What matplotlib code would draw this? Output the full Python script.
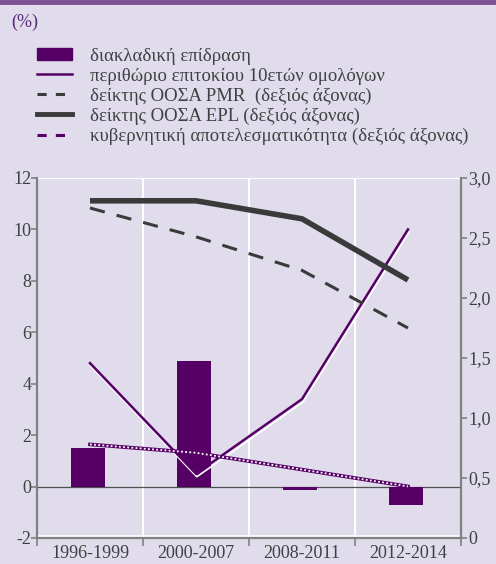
import numpy as np
import matplotlib.pyplot as plt
import matplotlib.patheffects as pe
from matplotlib.lines import Line2D
from matplotlib.patches import Patch

# ── data ────────────────────────────────────────────────────────────────────
periods      = ["1996-1999", "2000-2007", "2008-2011", "2012-2014"]
sector_eff   = [1.5, 4.9, -0.15, -0.7]     # left axis, bars
bond_spread  = [4.8, 0.5, 3.4, 10.0]       # left axis
pmr_index    = [2.75, 2.51, 2.23, 1.75]    # right axis
epl_index    = [2.81, 2.81, 2.66, 2.15]    # right axis
gov_effect   = [0.78, 0.71, 0.57, 0.43]    # right axis

legend_labels = [
    "διακλαδική επίδραση",
    "περιθώριο επιτοκίου 10ετών ομολόγων",
    "δείκτης ΟΟΣΑ PMR  (δεξιός άξονας)",
    "δείκτης ΟΟΣΑ EPL (δεξιός άξονας)",
    "κυβερνητική αποτελεσματικότητα (δεξιός άξονας)",
]

left_ticks   = [-2, 0, 2, 4, 6, 8, 10, 12]
right_ticks  = [0, 0.5, 1.0, 1.5, 2.0, 2.5, 3.0]
right_labels = ["0", "0,5", "1,0", "1,5", "2,0", "2,5", "3,0"]

# ── style ───────────────────────────────────────────────────────────────────
BG     = "#e0dcec"
PURPLE = "#560066"
DARK   = "#3a3a3a"
TEXT   = "#404040"
AXIS   = "#808080"

plt.rcParams["font.family"] = ["Liberation Serif", "DejaVu Serif"]

fig = plt.figure(figsize=(4.96, 5.64), dpi=100, facecolor=BG)
fig.add_artist(Line2D([0, 1], [0.9965, 0.9965], color="#7b4f93", lw=3.5,
                      transform=fig.transFigure))
fig.text(0.022, 0.961, "(%)", color="#5a2a78", fontsize=13, va="center")

ax = fig.add_axes([0.0746, 0.0461, 0.8548, 0.6383], facecolor=BG)
ax2 = ax.twinx()

x = np.arange(len(periods))

# bars
ax.bar(x - 0.02, sector_eff, width=0.32, color=PURPLE, zorder=3)
ax.axhline(0, color="#505050", lw=0.9, zorder=2)

# bond spread with white offset shadow
ax.plot(x, bond_spread, color=PURPLE, lw=1.8, zorder=5,
        path_effects=[pe.SimpleLineShadow(offset=(0.6, -2.2), shadow_color="white",
                                          alpha=1.0, linewidth=1.2),
                      pe.Normal()])

# right axis series
ax2.plot(x, epl_index, color=DARK, lw=4, solid_capstyle="butt", zorder=4)
ax2.plot(x, pmr_index, color=DARK, lw=2.2, dashes=(5, 4), zorder=4)
ax2.plot(x, gov_effect, color=PURPLE, lw=2.6, zorder=4)
ax2.plot(x, gov_effect, color="white", lw=1.3, dashes=(1, 1.3), zorder=4)

ax.set_xlim(-0.5, len(periods) - 0.5)
ax.set_ylim(-2, 12)
ax2.set_ylim(0, 3)

# grid: white vertical separators and top/bottom lines
for b in np.arange(0.5, len(periods) - 0.5, 1):
    ax.axvline(b, color="white", lw=1.5, zorder=1)
ax.axhline(12, color="white", lw=1.5, zorder=1)
ax.axhline(-1.93, color="white", lw=1.2, zorder=1)

ax.set_yticks(left_ticks)
ax.set_yticklabels([str(t) for t in left_ticks])
ax2.set_yticks(right_ticks)
ax2.set_yticklabels(right_labels)

ax.set_xticks(np.arange(-0.5, len(periods), 1))
ax.set_xticklabels([])
ax.set_xticks(x, minor=True)
ax.set_xticklabels(periods, minor=True)
ax.tick_params(axis="x", which="major", direction="out", length=6, color=AXIS, width=1.2)
ax.tick_params(axis="x", which="minor", length=0, pad=5, labelsize=13, labelcolor=TEXT)
ax.tick_params(axis="y", direction="out", length=4, color=AXIS, width=1.2,
               labelsize=13, labelcolor=TEXT, pad=0)
ax2.tick_params(axis="y", direction="out", length=4, color=AXIS, width=1.2,
                labelsize=13, labelcolor=TEXT, pad=1)

for a in (ax, ax2):
    a.spines["top"].set_visible(False)
    for s in ("left", "right", "bottom"):
        a.spines[s].set_color(AXIS)
        a.spines[s].set_linewidth(1.5)

# legend
handles = [
    Patch(facecolor=PURPLE, edgecolor=PURPLE),
    Line2D([], [], color=PURPLE, lw=1.8),
    Line2D([], [], color=DARK, lw=2.2, dashes=(3, 3)),
    Line2D([], [], color=DARK, lw=3.5),
    Line2D([], [], color=PURPLE, lw=2.2, dashes=(3, 3)),
]
fig.legend(handles, legend_labels, loc="upper left", bbox_to_anchor=(0.055, 0.932),
           frameon=False, fontsize=13.5, labelcolor=TEXT, handlelength=1.9,
           handleheight=0.6, handletextpad=0.95, labelspacing=0.15, borderpad=0)

fig.savefig("out.png", dpi=100, facecolor=BG)
